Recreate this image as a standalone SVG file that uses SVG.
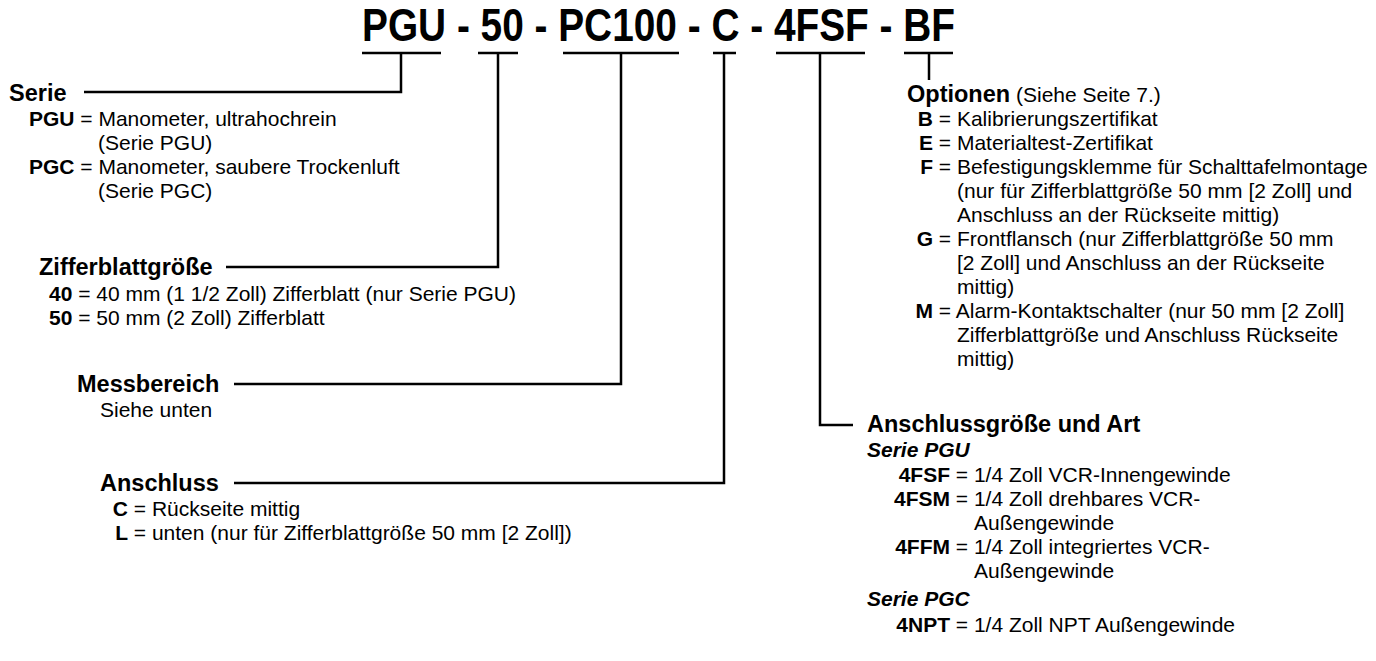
<svg xmlns="http://www.w3.org/2000/svg" width="1376" height="661" viewBox="0 0 1376 661">
<style>
text{font-family:"Liberation Sans",Arial,Helvetica,sans-serif;font-size:21px;fill:#000}
.h{font-weight:bold;font-size:23.5px}
.b{font-weight:bold}
.bi{font-weight:bold;font-style:italic}
.t{font-weight:bold;font-size:46px}
.k{text-anchor:end;font-weight:bold}
.c{fill:none;stroke:#000;stroke-width:2.5}
</style>
<rect width="1376" height="661" fill="#fff"/>
<g id="title">
<text class="t" x="362" y="41" textLength="593" lengthAdjust="spacingAndGlyphs">PGU - 50 - PC100 - C - 4FSF - BF</text>
</g>
<g id="connectors">
<path class="c" d="M362 53H441M478 53H518M563 53H679M713 53H736M776 53H865M904 53H953"/>
<path class="c" d="M401 53V92H84"/>
<path class="c" d="M498 53V267H226"/>
<path class="c" d="M621 53V384H234"/>
<path class="c" d="M724 53V483H234"/>
<path class="c" d="M820 53V425H853"/>
<path class="c" d="M929 53V80"/>
</g>
<g id="serie">
<text class="h" x="9" y="101">Serie</text>
<text x="29" y="126"><tspan class="b">PGU</tspan> = Manometer, ultrahochrein</text>
<text x="98" y="150">(Serie PGU)</text>
<text x="29" y="174"><tspan class="b">PGC</tspan> = Manometer, saubere Trockenluft</text>
<text x="98" y="198">(Serie PGC)</text>
</g>
<g id="zifferblattgroesse">
<text class="h" x="39" y="275">Zifferblattgröße</text>
<text x="49" y="301"><tspan class="b">40</tspan> = 40 mm (1 1/2 Zoll) Zifferblatt (nur Serie PGU)</text>
<text x="49" y="325"><tspan class="b">50</tspan> = 50 mm (2 Zoll) Zifferblatt</text>
</g>
<g id="messbereich">
<text class="h" x="77" y="392">Messbereich</text>
<text x="100" y="417">Siehe unten</text>
</g>
<g id="anschluss">
<text class="h" x="100" y="491">Anschluss</text>
<text class="k" x="128" y="516">C</text><text x="133.8" y="516">= Rückseite mittig</text>
<text class="k" x="128" y="540">L</text><text x="133.8" y="540">= unten (nur für Zifferblattgröße 50 mm [2 Zoll])</text>
</g>
<g id="optionen">
<text x="907" y="102"><tspan class="h">Optionen</tspan> (Siehe Seite 7.)</text>
<text class="k" x="933" y="126">B</text><text x="938.8" y="126">= Kalibrierungszertifikat</text>
<text class="k" x="933" y="150">E</text><text x="938.8" y="150">= Materialtest-Zertifikat</text>
<text class="k" x="933" y="174">F</text><text x="938.8" y="174">= Befestigungsklemme für Schalttafelmontage</text>
<text x="957" y="198">(nur für Zifferblattgröße 50 mm [2 Zoll] und</text>
<text x="957" y="222">Anschluss an der Rückseite mittig)</text>
<text class="k" x="933" y="246">G</text><text x="938.8" y="246">= Frontflansch (nur Zifferblattgröße 50 mm</text>
<text x="957" y="270">[2 Zoll] und Anschluss an der Rückseite</text>
<text x="957" y="294">mittig)</text>
<text class="k" x="933" y="318">M</text><text x="938.8" y="318">= Alarm-Kontaktschalter (nur 50 mm [2 Zoll]</text>
<text x="957" y="342">Zifferblattgröße und Anschluss Rückseite</text>
<text x="957" y="366">mittig)</text>
</g>
<g id="anschlussgroesse">
<text class="h" x="867" y="432">Anschlussgröße und Art</text>
<text class="bi" x="867" y="457">Serie PGU</text>
<text class="k" x="950" y="482">4FSF</text><text x="955.8" y="482">= 1/4 Zoll VCR-Innengewinde</text>
<text class="k" x="950" y="506">4FSM</text><text x="955.8" y="506">= 1/4 Zoll drehbares VCR-</text>
<text x="974" y="530">Außengewinde</text>
<text class="k" x="950" y="554">4FFM</text><text x="955.8" y="554">= 1/4 Zoll integriertes VCR-</text>
<text x="974" y="578">Außengewinde</text>
<text class="bi" x="867" y="606">Serie PGC</text>
<text class="k" x="950" y="632">4NPT</text><text x="955.8" y="632">= 1/4 Zoll NPT Außengewinde</text>
</g>
</svg>
